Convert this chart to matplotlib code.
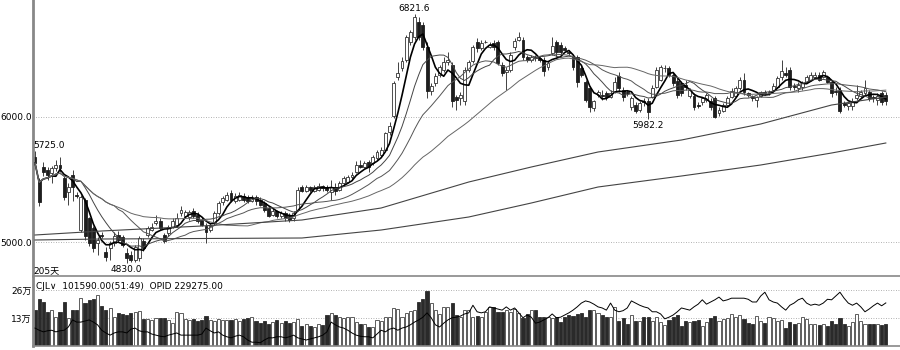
import matplotlib.pyplot as plt
import numpy as np
import pandas as pd

plt.rcParams['font.family'] = ['DejaVu Sans', 'Noto Sans CJK SC']

# 日K线数据, 205 根
open_ = [
    5680, 5488, 5600, 5580, 5550, 5590, 5620, 5510, 5400, 5540,
    5380, 5100, 5340, 5190, 5110, 4990, 5060, 4920, 4950, 4990,
    5060, 5040, 4910, 4900, 4860, 4870, 5010, 5060, 5100, 5150,
    5170, 5060, 5070, 5120, 5140, 5230, 5210, 5200, 5250, 5220,
    5180, 5130, 5100, 5150, 5230, 5320, 5340, 5390, 5330, 5340,
    5370, 5360, 5330, 5360, 5340, 5310, 5270, 5220, 5250, 5210,
    5230, 5210, 5190, 5260, 5440, 5410, 5440, 5410, 5420, 5450,
    5440, 5400, 5440, 5420, 5470, 5480, 5520, 5560, 5620, 5600,
    5640, 5630, 5670, 5700, 5740, 5880, 6010, 6320, 6390, 6460,
    6600, 6640, 6760, 6740, 6560, 6210, 6270, 6340, 6380, 6440,
    6420, 6160, 6150, 6130, 6380, 6450, 6600, 6550, 6600, 6560,
    6590, 6600, 6420, 6360, 6380, 6560, 6620, 6620, 6480, 6460,
    6480, 6470, 6460, 6400, 6510, 6600, 6580, 6550, 6520, 6480,
    6480, 6390, 6280, 6230, 6070, 6180, 6180, 6190, 6160, 6200,
    6330, 6220, 6200, 6080, 6100, 6060, 6130, 6130, 6160, 6240,
    6300, 6390, 6390, 6340, 6290, 6270, 6260, 6170, 6170, 6100,
    6120, 6140, 6130, 6150, 6030, 6050, 6100, 6160, 6170, 6230,
    6300, 6190, 6160, 6140, 6170, 6200, 6190, 6220, 6240, 6320,
    6350, 6380, 6250, 6230, 6240, 6280, 6300, 6320, 6340, 6320,
    6320, 6280, 6210, 6220, 6110, 6090, 6090, 6150, 6170, 6190,
    6200, 6160, 6140, 6190, 6180]
high = [
    5725, 5510, 5640, 5600, 5610, 5660, 5680, 5530, 5470, 5580,
    5400, 5380, 5350, 5200, 5130, 5040, 5080, 4960, 5010, 5080,
    5090, 5060, 4950, 4930, 4980, 5050, 5030, 5130, 5150, 5220,
    5190, 5070, 5140, 5190, 5230, 5290, 5260, 5260, 5270, 5240,
    5200, 5150, 5150, 5250, 5330, 5370, 5400, 5420, 5390, 5400,
    5390, 5380, 5380, 5380, 5360, 5330, 5290, 5270, 5260, 5250,
    5250, 5230, 5250, 5440, 5460, 5460, 5450, 5460, 5470, 5460,
    5460, 5500, 5470, 5490, 5530, 5540, 5560, 5650, 5660, 5650,
    5660, 5700, 5740, 5760, 5880, 5960, 6290, 6440, 6480, 6660,
    6700, 6821.6, 6800, 6760, 6600, 6270, 6350, 6420, 6480, 6520,
    6440, 6180, 6200, 6400, 6460, 6580, 6630, 6620, 6620, 6600,
    6620, 6620, 6440, 6400, 6520, 6630, 6680, 6640, 6500, 6500,
    6500, 6490, 6480, 6450, 6640, 6620, 6600, 6570, 6540, 6500,
    6500, 6420, 6300, 6250, 6140, 6220, 6220, 6210, 6220, 6320,
    6360, 6240, 6220, 6170, 6120, 6130, 6150, 6150, 6260, 6400,
    6420, 6420, 6410, 6360, 6310, 6290, 6300, 6230, 6190, 6120,
    6160, 6190, 6150, 6170, 6080, 6110, 6170, 6230, 6250, 6320,
    6350, 6200, 6180, 6170, 6210, 6220, 6220, 6270, 6330, 6460,
    6400, 6400, 6270, 6280, 6290, 6340, 6360, 6360, 6360, 6380,
    6330, 6300, 6240, 6240, 6130, 6120, 6150, 6260, 6220, 6300,
    6220, 6180, 6190, 6210, 6200]
low = [
    5610, 5290, 5530, 5500, 5470, 5570, 5560, 5340, 5300, 5330,
    5350, 5080, 5020, 4970, 4920, 4900, 5030, 4850, 4860, 4970,
    5000, 4960, 4830, 4840, 4840, 4850, 4930, 5040, 5090, 5140,
    5100, 4990, 5050, 5110, 5120, 5210, 5190, 5180, 5190, 5150,
    5130, 4990, 5080, 5140, 5220, 5300, 5330, 5320, 5310, 5330,
    5320, 5310, 5320, 5300, 5290, 5240, 5200, 5210, 5190, 5190,
    5170, 5160, 5170, 5250, 5400, 5400, 5400, 5400, 5410, 5410,
    5400, 5340, 5380, 5410, 5460, 5470, 5500, 5550, 5590, 5590,
    5560, 5620, 5660, 5680, 5730, 5860, 5990, 6300, 6370, 6440,
    6580, 6620, 6620, 6540, 6150, 6180, 6250, 6320, 6360, 6420,
    6080, 6060, 6100, 6100, 6360, 6430, 6520, 6540, 6590, 6550,
    6540, 6420, 6330, 6220, 6360, 6540, 6610, 6460, 6440, 6440,
    6450, 6440, 6330, 6380, 6500, 6480, 6500, 6530, 6500, 6380,
    6240, 6320, 6120, 6040, 6050, 6160, 6140, 6140, 6150, 6190,
    6200, 6130, 6170, 6060, 6030, 6040, 6090, 5982.2, 6150, 6230,
    6290, 6360, 6320, 6250, 6150, 6170, 6220, 6150, 6060, 6070,
    6100, 6120, 6060, 5990, 6010, 6040, 6090, 6150, 6160, 6220,
    6180, 6160, 6130, 6080, 6160, 6180, 6180, 6210, 6230, 6300,
    6320, 6220, 6220, 6200, 6220, 6270, 6290, 6310, 6290, 6310,
    6270, 6160, 6180, 6030, 6080, 6060, 6060, 6140, 6150, 6170,
    6130, 6120, 6100, 6100, 6100]
close = [
    5632, 5320, 5560, 5540, 5590, 5620, 5590, 5360, 5440, 5440,
    5370, 5360, 5050, 4990, 4950, 5020, 5050, 4880, 4990, 5050,
    5020, 4980, 4870, 4860, 4960, 5030, 4950, 5110, 5120, 5170,
    5110, 5010, 5120, 5170, 5190, 5260, 5240, 5240, 5210, 5170,
    5140, 5080, 5130, 5230, 5310, 5350, 5380, 5340, 5370, 5380,
    5340, 5330, 5350, 5330, 5300, 5260, 5210, 5250, 5210, 5230,
    5190, 5180, 5230, 5420, 5410, 5440, 5420, 5440, 5450, 5430,
    5420, 5440, 5410, 5470, 5510, 5520, 5540, 5620, 5600, 5630,
    5600, 5680, 5720, 5740, 5870, 5930, 6270, 6350, 6450, 6640,
    6680, 6800, 6640, 6560, 6210, 6250, 6330, 6400, 6440, 6460,
    6130, 6140, 6180, 6380, 6440, 6560, 6550, 6590, 6600, 6580,
    6560, 6430, 6350, 6380, 6500, 6610, 6640, 6480, 6460, 6480,
    6470, 6460, 6370, 6430, 6570, 6520, 6520, 6540, 6510, 6400,
    6280, 6340, 6140, 6080, 6130, 6200, 6170, 6160, 6190, 6280,
    6230, 6160, 6190, 6150, 6050, 6110, 6120, 6040, 6230, 6380,
    6400, 6390, 6340, 6270, 6180, 6190, 6240, 6220, 6080, 6090,
    6150, 6180, 6080, 6000, 6060, 6100, 6150, 6210, 6230, 6300,
    6200, 6180, 6150, 6160, 6200, 6190, 6200, 6250, 6310, 6370,
    6340, 6240, 6240, 6260, 6270, 6320, 6340, 6340, 6300, 6360,
    6280, 6190, 6200, 6050, 6100, 6110, 6130, 6180, 6200, 6230,
    6150, 6150, 6170, 6120, 6130]

# 成交量 (万手)
volume = [
    16.7, 21.8, 20.4, 15.8, 16.7, 13.5, 16.0, 20.4, 12.8, 16.5,
    16.7, 22.3, 19.8, 21.3, 21.7, 23.7, 18.5, 16.7, 17.5, 13.6,
    15.5, 15.0, 14.5, 15.2, 16.0, 16.3, 12.5, 12.5, 12.0, 13.0,
    12.8, 13.0, 12.0, 10.5, 16.0, 15.5, 12.5, 12.0, 12.5, 11.5,
    12.0, 14.0, 12.0, 11.5, 12.5, 12.0, 12.0, 12.0, 12.5, 11.5,
    12.5, 13.0, 13.5, 11.8, 10.5, 11.8, 10.0, 11.0, 12.0, 10.5,
    11.5, 10.5, 11.0, 12.5, 9.4, 10.2, 9.3, 9.0, 10.4, 9.7,
    14.4, 15.2, 14.4, 13.6, 12.9, 13.3, 13.6, 11.3, 10.4, 10.4,
    9.0, 9.0, 12.1, 11.8, 13.3, 13.6, 17.5, 17.0, 13.6, 15.4,
    16.4, 16.7, 20.6, 21.7, 25.7, 19.8, 16.7, 14.8, 17.9, 18.3,
    20.1, 14.4, 13.6, 16.7, 16.7, 13.6, 13.9, 13.6, 16.0, 18.3,
    18.3, 16.0, 16.0, 16.7, 16.0, 17.0, 15.4, 12.9, 14.8, 16.7,
    16.7, 13.6, 13.3, 13.3, 12.9, 13.6, 11.3, 13.6, 14.4, 13.9,
    14.8, 15.2, 13.6, 16.7, 16.7, 15.4, 14.4, 13.6, 13.3, 18.3,
    11.8, 12.9, 10.4, 14.4, 11.8, 11.8, 13.6, 13.3, 11.8, 13.3,
    11.3, 9.7, 12.1, 13.6, 14.4, 9.3, 11.6, 11.3, 11.8, 12.1,
    9.3, 11.3, 12.9, 13.9, 11.8, 12.4, 12.9, 14.8, 13.6, 14.4,
    12.4, 10.8, 10.4, 13.9, 11.8, 10.8, 13.3, 12.9, 11.8, 12.1,
    8.2, 11.3, 10.2, 10.8, 13.6, 12.4, 10.4, 10.4, 9.7, 10.2,
    9.3, 11.6, 10.4, 13.1, 10.2, 9.3, 11.0, 14.8, 11.8, 10.4,
    10.4, 10.4, 10.2, 9.7, 10.159]

# 持仓量 OPID (万手)
oi = [
    18.3, 17.9, 17.6, 17.8, 17.9, 17.6, 17.8, 17.9, 18.5, 19.8,
    19.4, 19.4, 19.6, 19.8, 19.4, 18.9, 17.9, 17.4, 17.0, 17.4,
    17.6, 17.6, 17.4, 18.1, 18.3, 17.8, 17.6, 17.6, 17.2, 17.0,
    16.8, 16.7, 17.0, 17.2, 17.4, 17.0, 17.0, 17.0, 17.0, 17.0,
    17.2, 18.3, 17.8, 17.4, 17.6, 17.0, 16.7, 16.5, 16.8, 17.0,
    16.7, 16.1, 15.7, 15.7, 15.6, 16.1, 16.5, 16.5, 16.7, 16.7,
    16.5, 16.7, 17.0, 16.5, 16.3, 16.1, 16.3, 16.5, 16.7, 17.0,
    17.6, 19.4, 18.9, 18.5, 18.3, 17.9, 17.4, 17.0, 16.8, 16.7,
    16.7, 16.5, 17.2, 17.9, 17.6, 18.1, 18.3, 17.9, 18.3, 18.5,
    18.9, 19.4, 19.8, 20.3, 21.1, 20.2, 18.9, 18.5, 19.2, 19.8,
    20.2, 20.3, 20.5, 20.9, 21.1, 22.5, 21.3, 21.1, 21.3, 22.2,
    22.0, 21.8, 21.6, 22.2, 21.6, 22.0, 21.1, 20.2, 20.7, 20.3,
    19.2, 19.4, 19.8, 20.2, 20.9, 20.2, 20.3, 20.7, 21.1, 21.6,
    22.2, 22.9, 23.3, 23.1, 22.7, 22.2, 22.0, 21.6, 22.9, 21.6,
    21.3, 21.5, 22.0, 23.3, 22.9, 22.5, 22.2, 22.0, 21.3, 21.3,
    20.9, 20.0, 20.3, 20.7, 21.3, 22.0, 21.8, 21.6, 22.2, 22.7,
    23.5, 22.7, 23.1, 23.5, 24.0, 23.3, 23.5, 23.8, 23.8, 23.8,
    23.8, 23.6, 23.1, 23.1, 24.2, 24.9, 23.5, 23.1, 22.9, 22.2,
    21.6, 22.5, 22.9, 23.5, 23.8, 22.9, 22.5, 22.7, 22.5, 22.9,
    23.6, 23.5, 24.2, 24.9, 23.8, 22.9, 22.5, 22.9, 22.2, 21.3,
    21.8, 22.4, 22.9, 22.4, 22.9275]

# 两条长周期均线, 按K线序号读出的几个点
long_idx = [0, 16, 40, 64, 83, 104, 119, 135, 155, 174, 191, 204]
ma_long1 = [5056, 5088, 5128, 5176, 5272, 5480, 5600, 5720, 5816, 5944, 6096, 6160]
ma_long2 = [5016, 5024, 5028, 5032, 5096, 5200, 5312, 5440, 5528, 5616, 5712, 5792]

price_ticks = [5000, 6000]
vol_ticks = [13, 26]
vol_tick_labels = ['13万', '26万']

o = np.array(open_, dtype=float)
h = np.array(high, dtype=float)
l = np.array(low, dtype=float)
c = np.array(close, dtype=float)
v = np.array(volume)
n = len(c)
x = np.arange(n)
up = c >= o

fig = plt.figure(figsize=(9, 3.5), dpi=100)
ax = fig.add_axes([33 / 900, 74 / 350, 867 / 900, 276 / 350])
axv = fig.add_axes([33 / 900, 4 / 350, 867 / 900, 69 / 350])

# K线
ax.vlines(x, l, h, color='#222222', lw=0.6, zorder=1)
body_h = np.maximum(np.abs(c - o), 4)
body_b = np.minimum(o, c)
ax.bar(x[up], body_h[up], 0.7, bottom=body_b[up], color='white',
       edgecolor='#333333', lw=0.6, zorder=2)
ax.bar(x[~up], body_h[~up], 0.7, bottom=body_b[~up], color='#1e1e1e',
       edgecolor='#1e1e1e', lw=0.6, zorder=2)

# 均线
s = pd.Series(c)
ax.plot(x, s.rolling(5, min_periods=1).mean(), color='black', lw=1.2, zorder=3)
ax.plot(x, s.rolling(10, min_periods=1).mean(), color='#444444', lw=0.7, zorder=3)
ax.plot(x, s.rolling(20, min_periods=1).mean(), color='#555555', lw=0.7, zorder=3)
ax.plot(x, s.rolling(40, min_periods=1).mean(), color='#666666', lw=0.7, zorder=3)
ax.plot(long_idx, ma_long1, color='#444444', lw=0.8, zorder=3)
ax.plot(long_idx, ma_long2, color='#444444', lw=0.8, zorder=3)

for t in price_ticks:
    ax.axhline(t, color='#999999', lw=0.6, ls=(0, (1, 2)), zorder=0)

ax.set_xlim(-0.48, 207.4)
ax.set_ylim(4728, 6936)
ax.set_xticks([])
ax.set_yticks(price_ticks, [f'{t:.1f}' for t in price_ticks])
ax.tick_params(axis='y', length=0, pad=1, labelsize=6.5)
for side in ['top', 'right']:
    ax.spines[side].set_visible(False)
ax.spines['left'].set_color('#888888')
ax.spines['left'].set_linewidth(2)
ax.spines['bottom'].set_color('#888888')
ax.spines['bottom'].set_linewidth(1.2)

# 高低点标注
i_max = int(np.argmax(h))
i_min = int(np.argmin(l))
i_low2 = i_max + int(np.argmin(l[i_max:]))
ax.annotate(f'{h[i_max]:.1f}', (i_max, h[i_max]), xytext=(0, 1), textcoords='offset points',
            ha='center', va='bottom', fontsize=6.5)
ax.annotate(f'{l[i_min]:.1f}', (i_min, l[i_min]), xytext=(0, -1), textcoords='offset points',
            ha='center', va='top', fontsize=6.5)
ax.annotate(f'{l[i_low2]:.1f}', (i_low2, l[i_low2]), xytext=(0, -1), textcoords='offset points',
            ha='center', va='top', fontsize=6.5)
ax.annotate(f'{h[0]:.1f}', (0, h[0]), xytext=(-1, 1), textcoords='offset points',
            ha='left', va='bottom', fontsize=6.5)
ax.text(0.0, 0.005, f'{n}天', transform=ax.transAxes, fontsize=6.5, va='bottom', ha='left')

# 成交量
axv.bar(x[up], v[up], 0.75, color='white', edgecolor='#444444', lw=0.6)
axv.bar(x[~up], v[~up], 0.75, color='#2a2a2a', edgecolor='#2a2a2a', lw=0.6)
for t in vol_ticks:
    axv.axhline(t, color='#999999', lw=0.6, ls=(0, (1, 2)), zorder=0)
axv.set_xlim(-0.48, 207.4)
axv.set_ylim(0, 32.0)
axv.set_xticks([])
axv.set_yticks(vol_ticks, vol_tick_labels)
axv.tick_params(axis='y', length=0, pad=1, labelsize=6.5)
for side in ['top', 'right']:
    axv.spines[side].set_visible(False)
axv.spines['left'].set_color('#888888')
axv.spines['left'].set_linewidth(2)
axv.spines['bottom'].set_color('#888888')
axv.spines['bottom'].set_linewidth(1.2)

# 持仓量线
axo = axv.twinx()
axo.plot(x, oi, color='black', lw=0.7)
axo.set_ylim(15.0, 27.7)
axo.set_yticks([])
for sp in axo.spines.values():
    sp.set_visible(False)

axv.text(0.004, 0.86, f'CJL∨  {v[-1] * 10000:.2f}(51:49)  OPID {oi[-1] * 10000:.2f}',
         transform=axv.transAxes, fontsize=6.5, va='center', ha='left')

fig.savefig('out.png', dpi=100)
